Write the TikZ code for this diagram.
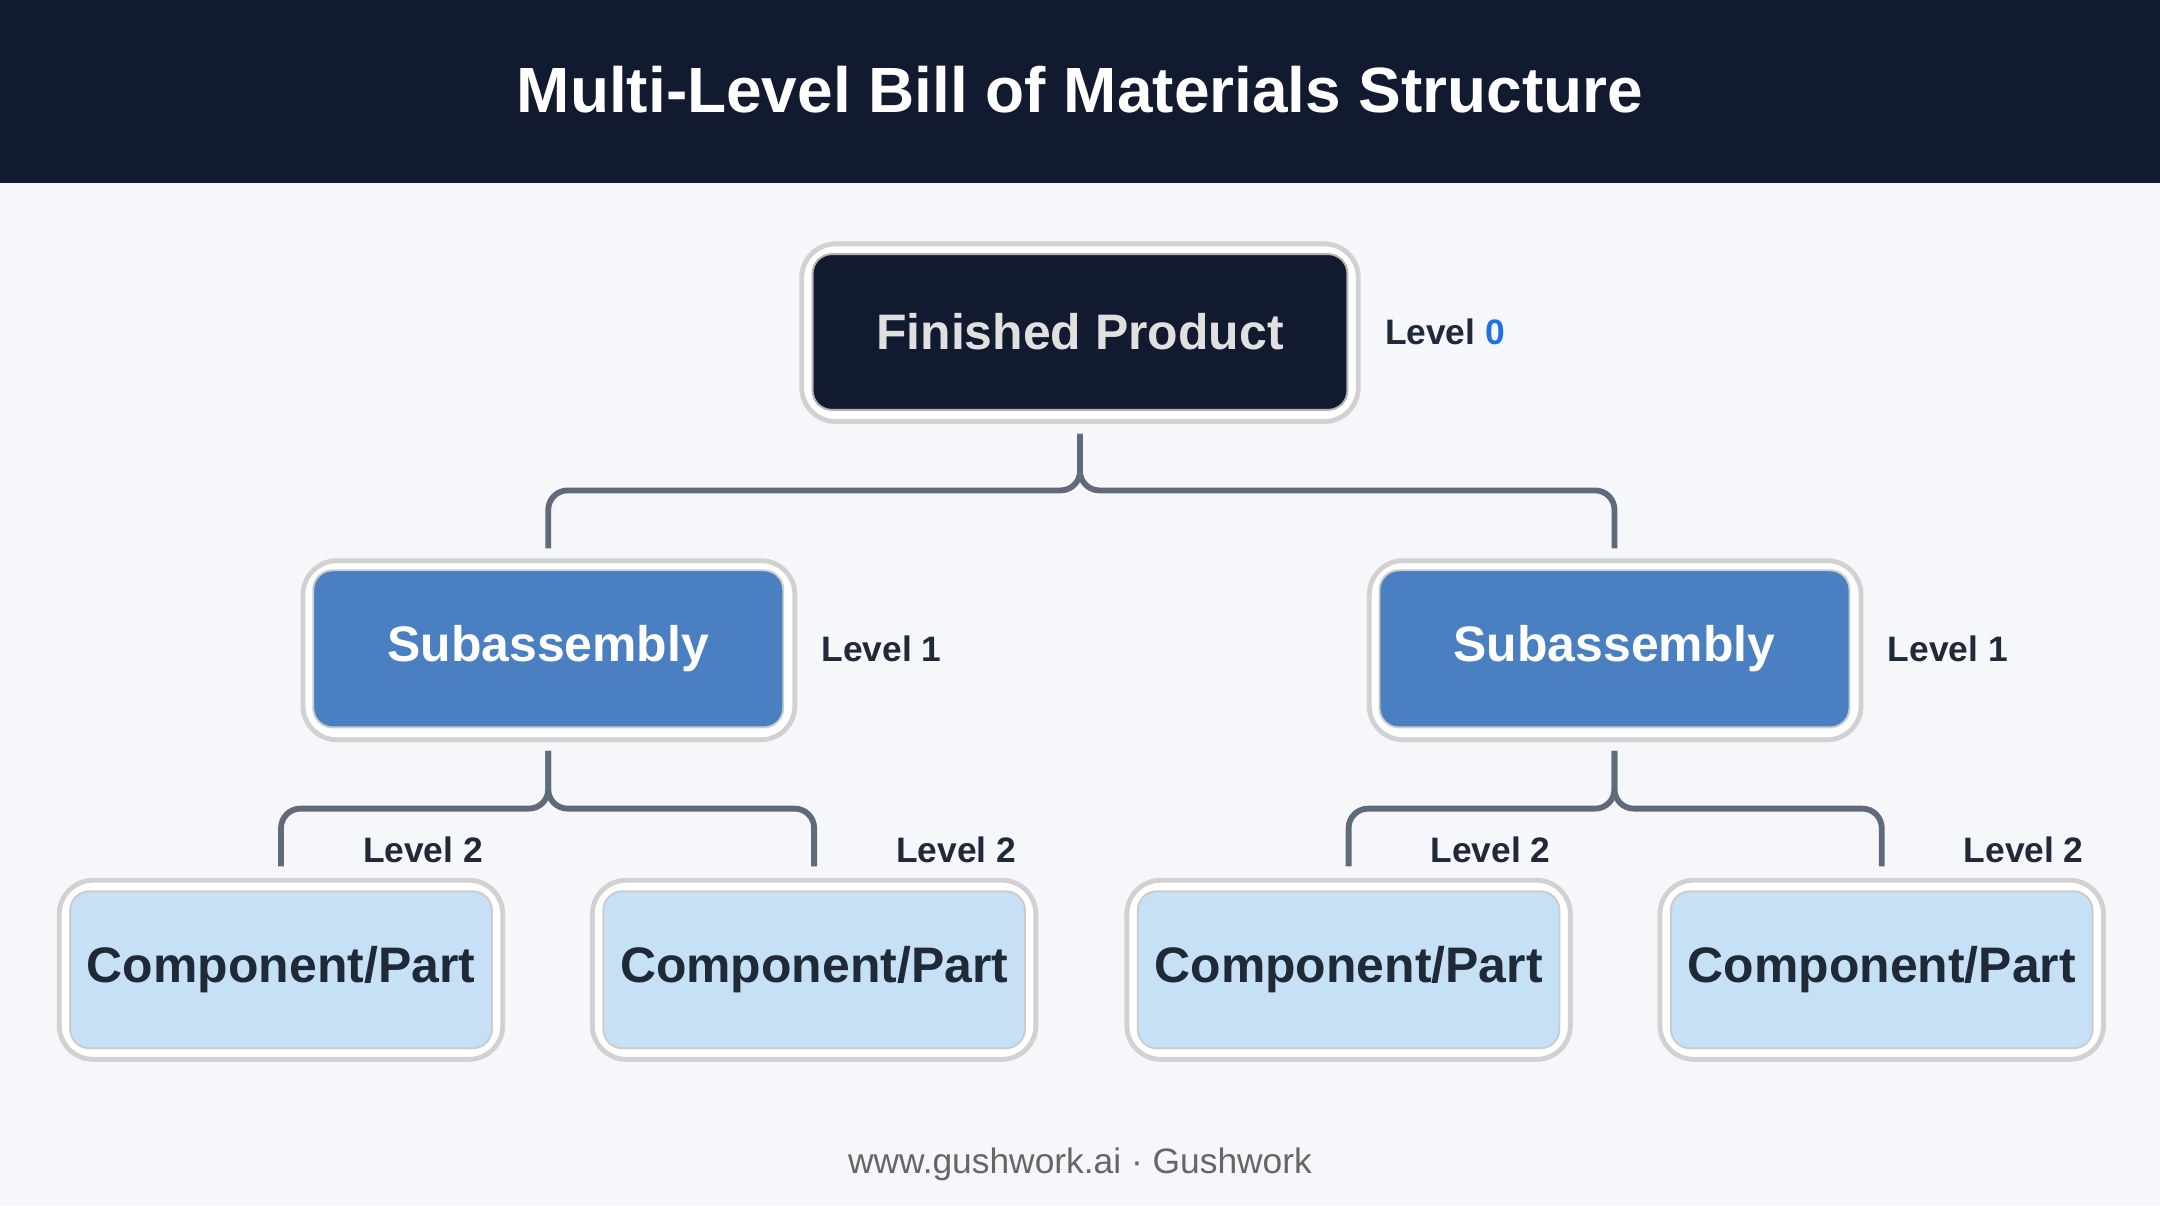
\documentclass[tikz,border=0pt]{standalone}
\usepackage{fontspec}
\setmainfont{Liberation Sans}
\usetikzlibrary{positioning}
\definecolor{navy}{HTML}{111A2E}
\definecolor{bgpage}{HTML}{F5F7FA}
\definecolor{subblue}{HTML}{4A7FC1}
\definecolor{partblue}{HTML}{C6E0F5}
\definecolor{wire}{HTML}{5F6B7A}
\definecolor{lvlblue}{HTML}{1E6FE8}
\definecolor{ink}{HTML}{1F2937}
\tikzset{
  frame/.style={draw=black!18, fill=white, rounded corners=7pt, line width=1pt},
  top/.style={fill=navy, draw=black!30, rounded corners=4pt, minimum width=3.88cm, minimum height=1.13cm,
    text=white!88!black, font=\bfseries\fontsize{10.3}{12}\selectfont},
  sub/.style={fill=subblue, draw=black!20, rounded corners=4pt, minimum width=3.41cm, minimum height=1.14cm,
    text=white, font=\bfseries\fontsize{10.3}{12}\selectfont},
  part/.style={fill=partblue, draw=black!20, rounded corners=4pt, minimum width=3.06cm, minimum height=1.14cm,
    inner sep=0pt, text=ink, font=\bfseries\fontsize{10.3}{12}\selectfont},
  level/.style={text=ink, font=\bfseries\fontsize{7.3}{9}\selectfont},
  link/.style={draw=wire, line width=1.2pt, rounded corners=4pt}
}
\begin{document}
\begin{tikzpicture}[x=0.01cm, y=-0.01cm]
\fill[bgpage] (0,0) rectangle (1568,875);
\fill[navy] (0,0) rectangle (1568,133);
\node[text=white, font=\bfseries\fontsize{13.2}{16}\selectfont] (title) at (784,65) {Multi-Level Bill of Materials Structure};

% level 0
\draw[frame] (582,177) rectangle (986,306);
\node[top] (fp) at (784,241) {Finished Product};
\node[level, anchor=west] (l0) at (993,241) {Level \textcolor{lvlblue}{0}};

% level 1
\foreach \n/\x in {subL/398, subR/1172} {
  \draw[frame] (\x-178,407) rectangle (\x+179,537);
  \node[sub] (\n) at (\x,471) {Subassembly};
  \node[level, anchor=west] (lvl\n) at (\x+186,471) {Level 1};
}

% level 2
\foreach \n/\x in {pA/204, pB/591, pC/979, pD/1366} {
  \draw[frame] (\x-161,639) rectangle (\x+161,769);
  \node[part] (\n) at (\x,704) {Component/Part};
  \node[level, anchor=east] (lvl\n) at (\x+159,617) {Level 2};
}

% connectors
\coordinate (fpb) at (784,315);
\draw[link] (fpb) |- (398,356) -- (398,398);
\draw[link] (fpb) |- (1172,356) -- (1172,398);
\draw[link] (398,545) |- (204,587) -- (204,629);
\draw[link] (398,545) |- (591,587) -- (591,629);
\draw[link] (1172,545) |- (979,587) -- (979,629);
\draw[link] (1172,545) |- (1366,587) -- (1366,629);

\node[text=black!60, font=\fontsize{7.3}{9}\selectfont] (foot) at (784,845) {www.gushwork.ai · Gushwork};
\end{tikzpicture}
\end{document}
